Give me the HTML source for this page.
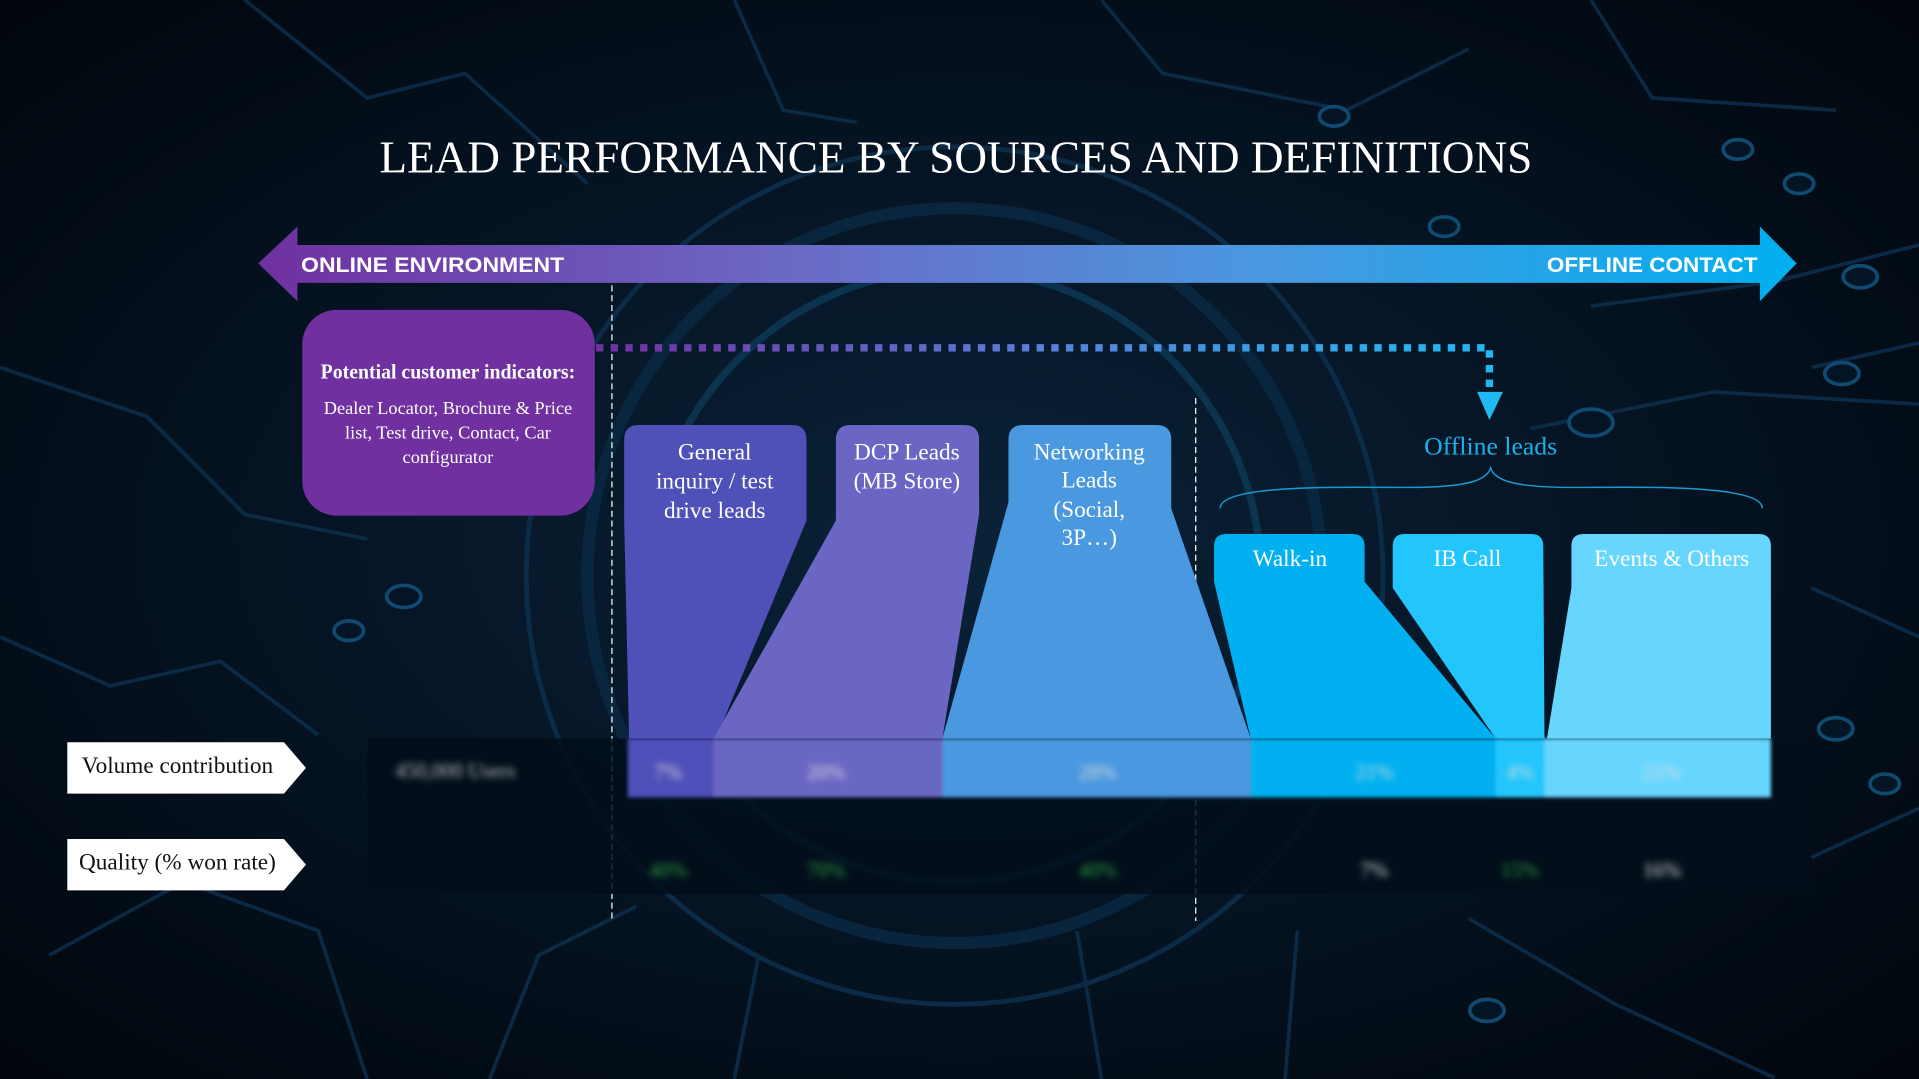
<!DOCTYPE html>
<html><head><meta charset="utf-8"><style>
html,body{margin:0;padding:0;background:#020a14;overflow:hidden}
svg{display:block}
.serif{font-family:"Liberation Serif",serif}
.sans{font-family:"Liberation Sans",sans-serif}
</style></head><body>
<svg width="1919" height="1079" viewBox="0 0 1568 881" preserveAspectRatio="none" xmlns="http://www.w3.org/2000/svg">
<defs>
<radialGradient id="bg" cx="0.5" cy="0.5" r="0.7">
<stop offset="0" stop-color="#0a2238"/><stop offset="0.6" stop-color="#04111f"/><stop offset="1" stop-color="#01060c"/>
</radialGradient>
<linearGradient id="bar" x1="0" x2="1">
<stop offset="0" stop-color="#7030a0"/><stop offset="0.35" stop-color="#6b6ac6"/><stop offset="0.65" stop-color="#4a98e0"/><stop offset="1" stop-color="#00b0f0"/>
</linearGradient>
<linearGradient id="dots" x1="487" x2="1220" gradientUnits="userSpaceOnUse">
<stop offset="0" stop-color="#7030a0"/><stop offset="0.5" stop-color="#5a80d8"/><stop offset="1" stop-color="#1fbaf2"/>
</linearGradient>
<filter id="blur"><feGaussianBlur stdDeviation="2.5"/></filter>
<filter id="blur2"><feGaussianBlur stdDeviation="1.5"/></filter>
</defs>
<rect width="1568" height="881" fill="url(#bg)"/>
<g stroke="#0d3150" stroke-width="3" fill="none" opacity="0.8">
<circle cx="780" cy="470" r="300" stroke-width="10" stroke="#0a2a44"/>
<circle cx="780" cy="470" r="350" stroke-width="4"/>
<circle cx="780" cy="470" r="250" stroke-width="6" stroke="#0c3a56"/>
<polyline points="0,300 120,340 200,420 300,440"/>
<polyline points="0,520 90,560 180,540 260,600"/>
<polyline points="40,780 150,720 260,760 300,881"/>
<polyline points="1480,300 1568,280"/>
<polyline points="1300,250 1450,230 1568,200"/>
<polyline points="1250,350 1400,320 1568,330"/>
<polyline points="1480,480 1568,520"/>
<polyline points="1480,700 1568,660"/>
<polyline points="1200,750 1320,820 1450,880"/>
<polyline points="400,881 440,780 520,740"/>
<polyline points="600,881 620,780"/>
<polyline points="900,881 880,760"/>
<polyline points="1050,881 1060,760"/>
<polyline points="200,0 300,80 380,60 480,150"/>
<polyline points="900,0 950,60 1100,90 1200,40"/>
<polyline points="600,0 640,90 700,100"/>
<polyline points="1300,0 1350,80 1500,90"/>
</g>
<g fill="#031424" stroke="#0f4a70" stroke-width="3">
<ellipse cx="1520" cy="226" rx="14" ry="9"/><ellipse cx="1505" cy="305" rx="14" ry="9"/><ellipse cx="1420" cy="122" rx="12" ry="8"/>
<ellipse cx="1500" cy="595" rx="14" ry="9"/><ellipse cx="1470" cy="150" rx="12" ry="8"/><ellipse cx="1300" cy="345" rx="18" ry="11"/>
<ellipse cx="330" cy="487" rx="14" ry="9"/><ellipse cx="285" cy="515" rx="12" ry="8"/><ellipse cx="1180" cy="185" rx="12" ry="8"/>
<ellipse cx="1090" cy="95" rx="12" ry="8"/><ellipse cx="1215" cy="825" rx="14" ry="9"/><ellipse cx="1540" cy="640" rx="12" ry="8"/>
</g>

<text x="781" y="141" text-anchor="middle" class="serif" font-size="37" fill="#fff" textLength="942" lengthAdjust="spacingAndGlyphs">LEAD PERFORMANCE BY SOURCES AND DEFINITIONS</text>

<path d="M211,215 L243,185 L243,200 L1438,200 L1438,185 L1468,215 L1438,246 L1438,231 L243,231 L243,246 Z" fill="url(#bar)"/>
<text x="246" y="222" class="sans" font-weight="bold" font-size="17" fill="#fff" textLength="215" lengthAdjust="spacingAndGlyphs">ONLINE ENVIRONMENT</text>
<text x="1436" y="222" text-anchor="end" class="sans" font-weight="bold" font-size="17" fill="#fff" textLength="172" lengthAdjust="spacingAndGlyphs">OFFLINE CONTACT</text>

<line x1="500" y1="233" x2="500" y2="752" stroke="#fff" stroke-width="1" stroke-dasharray="5,3"/>
<line x1="977" y1="325" x2="977" y2="752" stroke="#fff" stroke-width="1" stroke-dasharray="5,3"/>

<rect x="247" y="253" width="239" height="168" rx="28" fill="#7030a0"/>
<text x="366" y="309" text-anchor="middle" class="serif" font-size="17" font-weight="bold" fill="#fff" textLength="208" lengthAdjust="spacingAndGlyphs">Potential customer indicators:</text>
<text x="366" y="338" text-anchor="middle" class="serif" font-size="15" fill="#fff">Dealer Locator, Brochure &amp; Price</text>
<text x="366" y="358" text-anchor="middle" class="serif" font-size="15" fill="#fff">list, Test drive, Contact, Car</text>
<text x="366" y="378" text-anchor="middle" class="serif" font-size="15" fill="#fff">configurator</text>

<path d="M487,284 L1217,284 L1217,322" fill="none" stroke="url(#dots)" stroke-width="6" stroke-dasharray="6,6"/>
<path d="M1207,320 L1228,320 L1217,343 Z" fill="#1fbaf2"/>
<text x="1218" y="371" text-anchor="middle" class="serif" font-size="21" fill="#1ab0ea">Offline leads</text>
<path d="M997,415 C997,395 1100,398 1150,398 C1200,398 1215,392 1218,382 C1221,392 1236,398 1286,398 C1336,398 1440,395 1440,415" fill="none" stroke="#1a9ad0" stroke-width="1.2"/>

<!-- columns -->
<path d="M522,347 L647,347 Q659,347 659,359 L659,425 L585,603 L514,603 L510,425 L510,359 Q510,347 522,347 Z" fill="#5050b9"/>
<path d="M695,347 L788,347 Q800,347 800,359 L800,420 L770,603 L583,603 L683,425 L683,359 Q683,347 695,347 Z" fill="#6b66c4"/>
<path d="M836,347 L945,347 Q957,347 957,359 L957,415 L1022,603 L770,603 L824,410 L824,359 Q824,347 836,347 Z" fill="#4a98e0"/>
<path d="M1002,436 L1105,436 Q1115,436 1115,446 L1115,475 L1222,603 L1022,603 L992,475 L992,446 Q992,436 1002,436 Z" fill="#00b0f0"/>
<path d="M1148,436 L1251,436 Q1261,436 1261,446 L1262,603 L1222,603 L1138,480 L1138,446 Q1138,436 1148,436 Z" fill="#22c5fc"/>
<path d="M1294,436 L1437,436 Q1447,436 1447,446 L1447,603 L1264,603 L1284,480 L1284,446 Q1284,436 1294,436 Z" fill="#66d6fe"/>

<g class="serif" font-size="19" fill="#fff" text-anchor="middle">
<text x="584" y="375">General</text><text x="584" y="399">inquiry / test</text><text x="584" y="423">drive leads</text>
<text x="741" y="375">DCP Leads</text><text x="741" y="399">(MB Store)</text>
<text x="890" y="375">Networking</text><text x="890" y="398">Leads</text><text x="890" y="422">(Social,</text><text x="890" y="445">3P…)</text>
<text x="1054" y="462">Walk-in</text><text x="1199" y="462">IB Call</text><text x="1366" y="462">Events &amp; Others</text>
</g>

<!-- blurred table -->
<rect x="300" y="603" width="1180" height="127" fill="#020e1a" opacity="0.85"/>
<g filter="url(#blur2)">
<rect x="513" y="603" width="70" height="48" fill="#5050b9"/>
<rect x="583" y="603" width="187" height="48" fill="#6b66c4"/>
<rect x="770" y="603" width="252" height="48" fill="#4a98e0"/>
<rect x="1022" y="603" width="200" height="48" fill="#00b0f0"/>
<rect x="1222" y="603" width="40" height="48" fill="#22c5fc"/>
<rect x="1262" y="603" width="185" height="48" fill="#66d6fe"/>
</g>
<g filter="url(#blur)" class="serif" font-size="17" text-anchor="middle">
<text x="372" y="635" fill="#bbb">450,000 Users</text>
<g fill="#ddd"><text x="546" y="636">7%</text><text x="675" y="636">20%</text><text x="897" y="636">28%</text><text x="1123" y="636">21%</text><text x="1242" y="636">4%</text><text x="1358" y="636">21%</text></g>
<g fill="#2a9a40"><text x="546" y="716">40%</text><text x="675" y="716">70%</text><text x="897" y="716">40%</text><text x="1242" y="716">15%</text></g>
<g fill="#ddd"><text x="1123" y="716">7%</text><text x="1358" y="716">16%</text></g>
</g>

<path d="M55,606 L232,606 L250,627 L232,648 L55,648 Z" fill="#fff"/>
<path d="M55,685 L232,685 L250,706 L232,727 L55,727 Z" fill="#fff"/>
<text x="145" y="631" text-anchor="middle" class="serif" font-size="19" fill="#111">Volume contribution</text>
<text x="145" y="710" text-anchor="middle" class="serif" font-size="19" fill="#111">Quality (% won rate)</text>
</svg>
</body></html>
